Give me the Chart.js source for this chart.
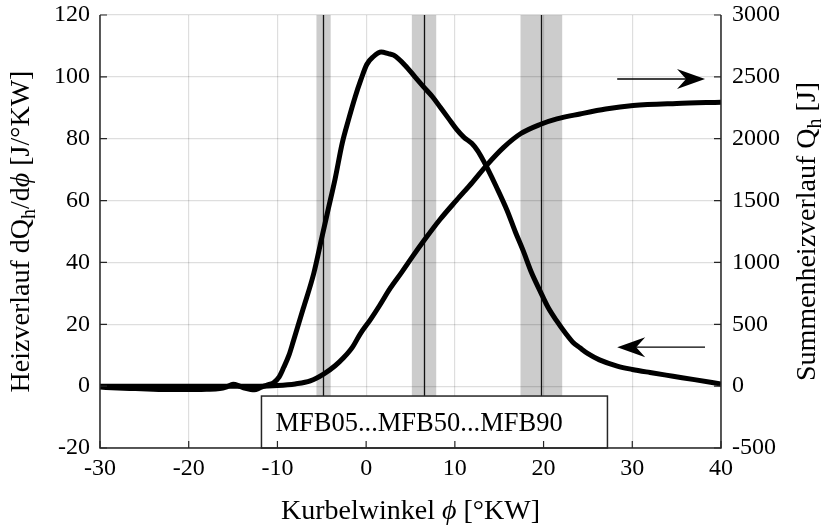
<!DOCTYPE html>
<html><head><meta charset="utf-8">
<script src="https://cdn.jsdelivr.net/npm/chart.js@4.4.1/dist/chart.umd.min.js"></script>
<style>html,body{margin:0;padding:0;background:#fff;}#wrap{width:831px;height:527px;}</style>
</head><body><div id="wrap"><canvas id="c" width="831" height="527"></canvas></div>
<script>
// ---- data ----
const rateX = [-30,-28,-26,-24,-22,-20,-18,-16.5,-15.7,-15,-14.4,-13.8,-13,-12.6,-12,-11.5,-11,-10.4,-9.8,-9.3,-8.7,-8.2,-7.1,-5.9,-5.0,-4.25,-3.5,-2.7,-2,-1.24,-0.6,0.07,0.8,1.7,2.5,3.1,4.4,5.5,6.5,7.5,8.4,9.3,10.2,11,11.9,12.6,13.2,13.6,14.7,15.9,16.8,17.7,18.6,19.6,20.5,21.5,22.5,23.3,24.1,25,26.3,28.3,30,32,34.6,37,40];
const rateY = [-0.3,-0.6,-0.8,-1.0,-1.1,-1.1,-1.0,-0.8,-0.2,0.6,0.2,-0.6,-1.1,-1.2,-0.6,0.0,0.5,1.2,3.0,6,10,14.6,25,36.5,48,57.5,67,78.5,86,93.5,99,104,106.5,108,107.5,107,103.7,100,96.7,93.5,90,86.5,83,80.5,78.5,76,73,70.8,64.3,56.7,50,43.8,37,30.8,25.5,21,17,14.2,12.4,10.5,8.5,6.5,5.4,4.4,3.2,2.1,0.7];
const sumX = [-30,-20,-14,-12,-10,-8,-6.3,-4.8,-3.5,-2.55,-1.5,-0.68,0.5,1.5,2.7,4,5.2,6.5,8.3,10.2,12,13.6,15.5,17.4,19.6,21.5,24.1,27,30.1,35,40];
const sumY = [0,0,0,0,5,18,42,97,165,229,320,421,540,650,790,920,1045,1175,1345,1504,1650,1787,1930,2040,2115,2160,2200,2240,2268,2285,2295];
const mfbLabels = ['MFB05','MFB50','MFB90'];
const mfbAngle = [-4.9, 6.5, 19.7];
const mfbBandLow = [-5.6, 5.15, 17.4];
const mfbBandHigh = [-4.0, 7.9, 22.1];
const xTicks = [-30,-20,-10,0,10,20,30,40];
const leftTicks = [-20,0,20,40,60,80,100,120];
const rightTicks = [-500,0,500,1000,1500,2000,2500,3000];
// annotation arrows (x in °KW, y in left-axis units)
const arrowFromX = [28.3, 38.2];
const arrowToX = [38.2, 28.3];
const arrowY = [99.3, 12.6];
// legend box extent (x in °KW, y in left-axis units)
const boxX = [-11.8, 27.2];
const boxY = [-20, -3.2];

const FONT = "'Liberation Serif','Times New Roman',serif";
const ink = '#000';
const TITLE = 28;

function drawRuns(ctx, runs, size) {
  let total = 0;
  const parts = runs.map(r => {
    const fs = r.sub ? Math.round(size*0.72) : size;
    const f = (r.it ? 'italic ' : '') + fs + 'px ' + FONT;
    ctx.font = f;
    const w = ctx.measureText(r.t).width;
    total += w;
    return {t:r.t, f, w, dy: r.sub ? size*0.28 : 0};
  });
  let x = -total/2;
  ctx.textAlign = 'left';
  ctx.textBaseline = 'middle';
  for (const p of parts) {
    ctx.font = p.f;
    ctx.fillText(p.t, x, p.dy);
    x += p.w;
  }
}

const annot = {
  id: 'annot',
  beforeDraw(chart) {
    const {ctx, chartArea: a, scales} = chart;
    ctx.save();
    ctx.fillStyle = '#fff';
    ctx.fillRect(0,0,chart.width,chart.height);
    ctx.fillStyle = '#cccccc';
    for (let i=0;i<mfbAngle.length;i++) {
      const x0 = scales.x.getPixelForValue(mfbBandLow[i]);
      const x1 = scales.x.getPixelForValue(mfbBandHigh[i]);
      ctx.fillRect(x0, a.top, x1-x0, a.bottom-a.top);
    }
    ctx.restore();
  },
  beforeDatasetsDraw(chart) {
    const {ctx, chartArea: a, scales} = chart;
    ctx.save();
    ctx.strokeStyle = '#111';
    ctx.lineWidth = 1.3;
    for (let i=0;i<mfbAngle.length;i++) {
      const x = Math.round(scales.x.getPixelForValue(mfbAngle[i])) + 0.5;
      ctx.beginPath(); ctx.moveTo(x, a.top); ctx.lineTo(x, a.bottom); ctx.stroke();
    }
    ctx.restore();
  },
  afterDatasetsDraw(chart) {
    const {ctx, chartArea: a, scales} = chart;
    const sx = scales.x, sy = scales.y, sy2 = scales.y2;
    ctx.save();
    // legend box
    const bx0 = sx.getPixelForValue(boxX[0]), bx1 = sx.getPixelForValue(boxX[1]);
    const by0 = sy.getPixelForValue(boxY[1]), by1 = sy.getPixelForValue(boxY[0]);
    ctx.fillStyle = '#fff';
    ctx.fillRect(bx0, by0, bx1-bx0, by1-by0);
    ctx.strokeStyle = '#262626';
    ctx.lineWidth = 1.5;
    ctx.strokeRect(bx0, by0, bx1-bx0, by1-by0);
    ctx.fillStyle = ink;
    ctx.font = '26.5px ' + FONT;
    ctx.textAlign = 'left';
    ctx.textBaseline = 'alphabetic';
    ctx.fillText(mfbLabels.join('...'), bx0 + 14, (by0+by1)/2 + 8.5);
    // axis lines
    ctx.strokeStyle = '#262626';
    ctx.lineWidth = 1.5;
    ctx.beginPath();
    ctx.moveTo(a.left, a.top); ctx.lineTo(a.left, a.bottom); ctx.lineTo(a.right, a.bottom); ctx.lineTo(a.right, a.top);
    ctx.stroke();
    // inward ticks
    ctx.lineWidth = 1.2;
    const tl = 7;
    ctx.beginPath();
    leftTicks.forEach(v => { const y = sy.getPixelForValue(v); ctx.moveTo(a.left, y); ctx.lineTo(a.left+tl, y); });
    rightTicks.forEach(v => { const y = sy2.getPixelForValue(v); ctx.moveTo(a.right, y); ctx.lineTo(a.right-tl, y); });
    xTicks.forEach(v => { const x = sx.getPixelForValue(v); ctx.moveTo(x, a.bottom); ctx.lineTo(x, a.bottom-tl); });
    ctx.stroke();
    // arrows
    ctx.strokeStyle = ink; ctx.fillStyle = ink; ctx.lineWidth = 1.4;
    for (let i=0;i<arrowY.length;i++) {
      const x0 = sx.getPixelForValue(arrowFromX[i]);
      const x1 = sx.getPixelForValue(arrowToX[i]);
      const y = sy.getPixelForValue(arrowY[i]);
      const d = x1 > x0 ? 1 : -1;
      ctx.beginPath(); ctx.moveTo(x0, y); ctx.lineTo(x1 - d*18, y); ctx.stroke();
      ctx.beginPath();
      ctx.moveTo(x1, y);
      ctx.lineTo(x1 - d*28, y - 10);
      ctx.lineTo(x1 - d*19, y);
      ctx.lineTo(x1 - d*28, y + 10);
      ctx.closePath(); ctx.fill();
    }
    // axis titles
    ctx.fillStyle = ink;
    ctx.save();
    ctx.translate(22, (a.top+a.bottom)/2);
    ctx.rotate(-Math.PI/2);
    drawRuns(ctx, [{t:'Heizverlauf dQ'},{t:'h',sub:true},{t:'/d'},{t:'ϕ',it:true},{t:' [J/°KW]'}], TITLE);
    ctx.restore();
    ctx.save();
    ctx.translate(808, (a.top+a.bottom)/2);
    ctx.rotate(-Math.PI/2);
    drawRuns(ctx, [{t:'Summenheizverlauf Q'},{t:'h',sub:true},{t:' [J]'}], TITLE);
    ctx.restore();
    ctx.save();
    ctx.translate((a.left+a.right)/2, 512);
    drawRuns(ctx, [{t:'Kurbelwinkel '},{t:'ϕ',it:true},{t:' [°KW]'}], TITLE);
    ctx.restore();
    ctx.restore();
  }
};

const tickFont = {family: FONT, size: 24};
const plain = v => String(v);
new Chart(document.getElementById('c'), {
  type: 'line',
  data: {
    datasets: [
      {label:'dQh/dphi', yAxisID:'y', data: rateX.map((x,i)=>({x, y: rateY[i]})),
       borderColor: ink, borderWidth: 5, pointRadius: 0, cubicInterpolationMode: 'monotone', fill: false},
      {label:'Qh', yAxisID:'y2', data: sumX.map((x,i)=>({x, y: sumY[i]})),
       borderColor: ink, borderWidth: 5, pointRadius: 0, cubicInterpolationMode: 'monotone', fill: false}
    ]
  },
  options: {
    responsive: false, animation: false, devicePixelRatio: 1,
    layout: {padding: {top: 15, left: 0, right: 0, bottom: 0}},
    plugins: {legend: {display: false}, tooltip: {enabled: false}},
    scales: {
      x: {type: 'linear', min: -30, max: 40,
          afterBuildTicks: s => { s.ticks = xTicks.map(v => ({value: v})); },
          afterFit: s => { s.height = 79; s.paddingLeft = 0; s.paddingRight = 0; },
          ticks: {font: tickFont, color: ink, padding: 6, maxRotation: 0, autoSkip: false, callback: plain},
          grid: {color: 'rgba(0,0,0,0.13)', lineWidth: 1.2, drawTicks: false},
          border: {display: false}},
      y: {type: 'linear', position: 'left', min: -20, max: 120,
          afterBuildTicks: s => { s.ticks = leftTicks.map(v => ({value: v})); },
          afterFit: s => { s.width = 100; s.paddingTop = 0; s.paddingBottom = 0; },
          ticks: {font: tickFont, color: ink, padding: 10, callback: plain},
          grid: {color: 'rgba(0,0,0,0.13)', lineWidth: 1.2, drawTicks: false},
          border: {display: false}},
      y2: {type: 'linear', position: 'right', min: -500, max: 3000,
          afterBuildTicks: s => { s.ticks = rightTicks.map(v => ({value: v})); },
          afterFit: s => { s.width = 110; s.paddingTop = 0; s.paddingBottom = 0; },
          ticks: {font: tickFont, color: ink, padding: 11, callback: plain},
          grid: {display: false, drawTicks: false},
          border: {display: false}}
    }
  },
  plugins: [annot]
});
</script></body></html>
